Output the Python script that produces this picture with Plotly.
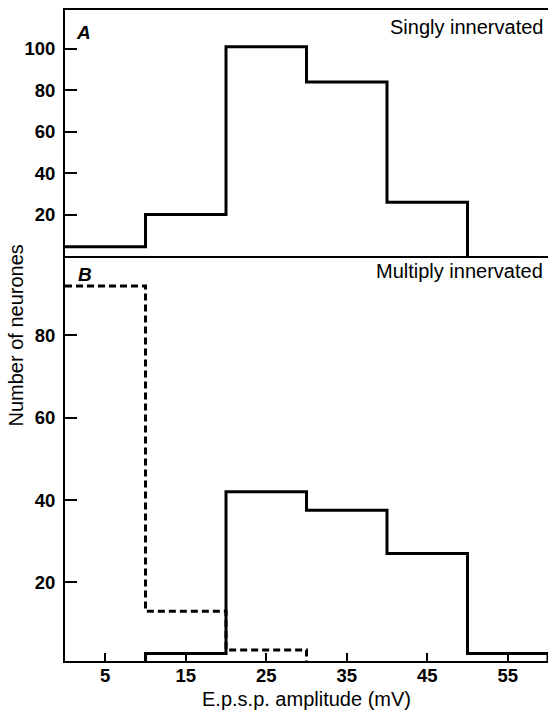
import plotly.graph_objects as go

# ---- data ----
bin_edges = [0, 10, 20, 30, 40, 50, 60]
singly_counts = [4.5, 20, 101, 84, 26, 0]          # panel A
multiply_solid_counts = [0, 2.7, 42, 37.5, 27, 2.7]  # panel B, solid
multiply_dashed_counts = [92, 13, 3.6, 0, 0, 0]      # panel B, dashed
x_tick_vals = [5, 15, 25, 35, 45, 55]
a_tick_vals = [20, 40, 60, 80, 100]
b_tick_vals = [20, 40, 60, 80]


def step_path(edges, counts, rise_from_zero=True):
    idx = [i for i, c in enumerate(counts) if c > 0]
    first, last = idx[0], idx[-1]
    xs, ys = ([edges[first]], [0]) if rise_from_zero else ([], [])
    for i in range(first, last + 1):
        xs += [edges[i], edges[i + 1]]
        ys += [counts[i], counts[i]]
    xs.append(edges[last + 1])
    ys.append(0)
    return xs, ys


FONT = "Liberation Sans"
fig = go.Figure()

xa, ya = step_path(bin_edges, singly_counts, rise_from_zero=False)
fig.add_trace(go.Scatter(x=xa, y=ya, mode="lines", xaxis="x2", yaxis="y2",
                         line=dict(color="black", width=3), showlegend=False,
                         hoverinfo="skip"))
xb, yb = step_path(bin_edges, multiply_dashed_counts, rise_from_zero=False)
fig.add_trace(go.Scatter(x=xb, y=yb, mode="lines", xaxis="x", yaxis="y",
                         line=dict(color="black", width=3, dash="7px,4px"),
                         showlegend=False, hoverinfo="skip"))
xs_, ys_ = step_path(bin_edges, multiply_solid_counts)
fig.add_trace(go.Scatter(x=xs_, y=ys_, mode="lines", xaxis="x", yaxis="y",
                         line=dict(color="black", width=3), showlegend=False,
                         hoverinfo="skip"))

split = 405 / 651
tickfont = dict(family=FONT, size=18.5, color="black", weight="bold")

fig.update_layout(
    width=548, height=710,
    margin=dict(l=65, r=0, t=10, b=49),
    paper_bgcolor="white", plot_bgcolor="white",
    xaxis=dict(domain=[0, 1], range=[0, 60], anchor="y",
               showline=True, linecolor="black", linewidth=2,
               ticks="inside", ticklen=8, tickwidth=2, tickcolor="black",
               tickvals=x_tick_vals, tickfont=tickfont, ticklabelstandoff=-3,
               showgrid=False, zeroline=False),
    yaxis=dict(domain=[0, split], range=[0.9, 99.3], anchor="x",
               showline=True, linecolor="black", linewidth=2,
               ticks="inside", ticklen=12, tickwidth=2, tickcolor="black",
               tickvals=b_tick_vals, tickfont=tickfont, ticklabelstandoff=4,
               showgrid=False, zeroline=False),
    xaxis2=dict(domain=[0, 1], range=[0, 60], anchor="y2",
                showline=True, linecolor="black", linewidth=2, mirror=True,
                ticks="", showticklabels=False,
                showgrid=False, zeroline=False),
    yaxis2=dict(domain=[split, 1], range=[0, 118.8], anchor="x2",
                showline=True, linecolor="black", linewidth=2,
                ticks="inside", ticklen=12, tickwidth=2, tickcolor="black",
                tickvals=a_tick_vals, tickfont=tickfont, ticklabelstandoff=4,
                showgrid=False, zeroline=False),
)

txt = dict(family=FONT, size=20, color="black")
fig.add_annotation(text="Singly innervated", xref="paper", yref="paper",
                   x=0.994, y=0.974, xanchor="right", yanchor="middle",
                   showarrow=False, font=txt)
fig.add_annotation(text="Multiply innervated", xref="paper", yref="paper",
                   x=0.994, y=0.599, xanchor="right", yanchor="middle",
                   showarrow=False, font=txt)
fig.add_annotation(text="<b><i>A</i></b>", xref="paper", yref="paper",
                   x=0.018, y=0.965, xanchor="left", yanchor="middle",
                   showarrow=False, font=dict(family=FONT, size=19, color="black"))
fig.add_annotation(text="<b><i>B</i></b>", xref="paper", yref="paper",
                   x=0.022, y=0.594, xanchor="left", yanchor="middle",
                   showarrow=False, font=dict(family=FONT, size=19, color="black"))
fig.add_annotation(text="Number of neurones", xref="paper", yref="paper",
                   x=-0.1035, y=0.50, xanchor="center", yanchor="middle",
                   textangle=-90, showarrow=False, font=txt)
fig.add_annotation(text="E.p.s.p. amplitude (mV)", xref="paper", yref="paper",
                   x=0.501, y=-0.059, xanchor="center", yanchor="middle",
                   showarrow=False, font=txt)

fig.write_html("out.html")
